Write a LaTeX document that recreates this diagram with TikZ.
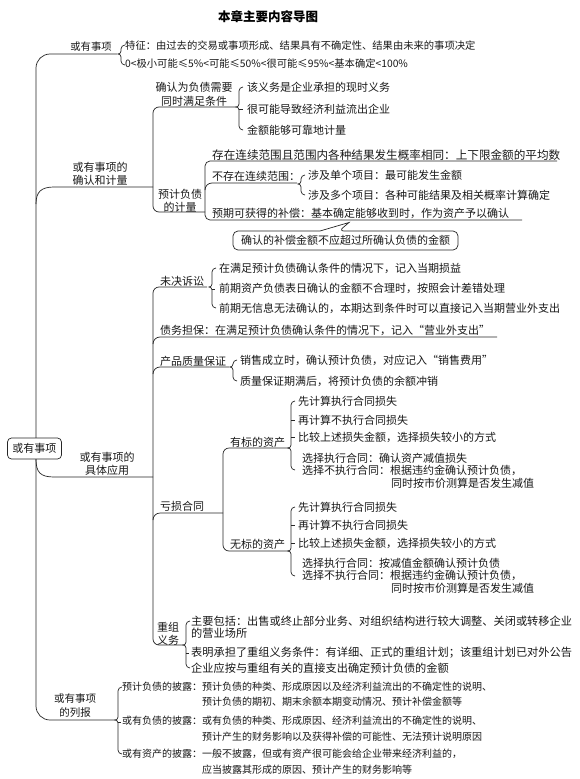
\documentclass[tikz,border=0pt]{standalone}
\usepackage{fontspec}
\setmainfont{Noto Sans CJK SC}
\newcommand\fsz[1]{\fontsize{#1}{#1}\selectfont}
\newcommand\cbrace[4]{%
  \draw[ln] ({#1+4},#2) to[out=180,in=90] (#1,{#2+4}) -- (#1,{#3-3}) to[out=-90,in=0] ({#1-3},#3) to[out=0,in=90] (#1,{#3+3}) -- (#1,{#4-4}) to[out=-90,in=180] ({#1+4},#4);}
\tikzset{
  ln/.style={line width=0.7pt, draw=black!85},
  tx/.style={inner sep=0pt, anchor=west, text=black!90, font=\fsz{11}},
  txs/.style={tx, font=\fsz{10}},
  lbl/.style={inner sep=0pt, align=center, text=black!90, font=\fontsize{11}{13}\selectfont},
}
\begin{document}
\begin{tikzpicture}[x=1pt,y=-1pt]
\fill[white] (0,0) rectangle (580,779);
\useasboundingbox (0,0) rectangle (580,779);

\node[inner sep=0pt, font=\bfseries\fsz{12.5}] (title) at (268,17) {本章主要内容导图};

% ---------- main spine ----------
\draw[ln, rounded corners=14] (117,54) -- (36,54) -- (36,720) -- (115,720);

% ---------- section 1 ----------
\node[lbl, font=\fsz{10.3}] (s1) at (91,47) {或有事项};
\cbrace{121}{45}{54}{65}
\node[tx, font=\fsz{10.3}] (s1a) at (125,46) {特征：由过去的交易或事项形成、结果具有不确定性、结果由未来的事项决定};
\node[tx, font=\fsz{10.3}] (s1b) at (125,64) {0<极小可能≤5\%<可能≤50\%<很可能≤95\%<基本确定<100\%};

% ---------- section 2 ----------
\node[lbl] (s2) at (100,173.5) {或有事项的\\确认和计量};
\draw[ln] (36,204) .. controls (36,192) and (41,187) .. (54,187) -- (153,187);
\draw[ln, rounded corners=6] (236,107) -- (153,107) -- (153,212) -- (205,212);

\node[lbl, font=\fontsize{11}{14}\selectfont] (s21) at (194,94) {确认为负债需要\\同时满足条件};
\cbrace{239}{87}{107}{130}
\draw[ln] (239,109) -- (243,109);
\node[tx] (s21a) at (247,87) {该义务是企业承担的现时义务};
\node[tx] (s21b) at (247,109) {很可能导致经济利益流出企业};
\node[tx] (s21c) at (247,130) {金额能够可靠地计量};

\node[lbl, font=\fontsize{11}{12.5}\selectfont] (s22) at (180,201) {预计负债\\的计量};
\draw[ln, rounded corners=5] (557,161) -- (205,161) -- (205,220) -- (522,220);
\draw[ln] (205,190) to[out=90,in=180] (212,183) -- (297,183);
\node[tx, font=\fsz{11.6}] (s22a) at (212,155) {存在连续范围且范围内各种结果发生概率相同：上下限金额的平均数};
\node[tx] (s22b) at (212,176) {不存在连续范围：};
\cbrace{301}{175}{184}{195}
\node[tx] (s22b1) at (308,175) {涉及单个项目：最可能发生金额};
\node[tx] (s22b2) at (308,195) {涉及多个项目：各种可能结果及相关概率计算确定};
\node[tx] (s22c) at (212,213) {预期可获得的补偿：基本确定能够收到时，作为资产予以确认};

\node[lbl] (note) at (345.5,240.5) {确认的补偿金额不应超过所确认负债的金额};
\draw[ln, rounded corners=5] (320,231) -- (233,231) -- (233,250) -- (458,250) -- (458,231) -- (339,231) [sharp corners] -- (349,222.5) -- (320,231);

% ---------- section 3 ----------
\node[lbl] (s3) at (107,463.5) {或有事项的\\具体应用};
\draw[ln] (36,459) .. controls (36,472) and (40,477) .. (54,477) -- (153,477);
\node[draw, ln, rounded corners=4, fill=white, minimum width=54pt, minimum height=21pt, inner sep=2pt, text=black!90, font=\fsz{11}] (root) at (34.5,448.5) {或有事项};

\draw[ln, rounded corners=6] (207,287) -- (153,287) -- (153,645) -- (183,645);
\draw[ln] (153,344) to[out=90,in=180] (160,337) -- (497,337);
\draw[ln] (153,374) to[out=90,in=180] (160,367) -- (229,367);
\draw[ln] (153,520) to[out=90,in=180] (160,513) -- (223,513);

\node[tx] (s31) at (160,281) {未决诉讼};
\cbrace{212}{268}{287}{308}
\draw[ln] (212,289) -- (215,289);
\node[tx] (s31a) at (219,268) {在满足预计负债确认条件的情况下，记入当期损益};
\node[tx] (s31b) at (219,288) {前期资产负债表日确认的金额不合理时，按照会计差错处理};
\node[tx] (s31c) at (219,308) {前期无信息无法确认的，本期达到条件时可以直接记入当期营业外支出};

\node[tx] (s32) at (160,330) {债务担保：在满足预计负债确认条件的情况下，记入“营业外支出”};

\node[tx] (s33) at (160,361) {产品质量保证};
\cbrace{233}{360}{367}{381}
\node[tx] (s33a) at (240,360) {销售成立时，确认预计负债，对应记入“销售费用”};
\node[tx] (s33b) at (240,381) {质量保证期满后，将预计负债的余额冲销};

\node[tx] (s34) at (160,506) {亏损合同};
\draw[ln, rounded corners=6] (289,448) -- (223,448) -- (223,551) -- (289,551);

\node[tx] (s34a) at (230,442) {有标的资产};
\cbrace{291}{401}{448}{470}
\draw[ln] (291,420) -- (295,420);
\draw[ln] (291,437) -- (295,437);
\node[tx] (s34a1) at (298,401) {先计算执行合同损失};
\node[tx] (s34a2) at (298,420) {再计算不执行合同损失};
\node[tx] (s34a3) at (298,437) {比较上述损失金额，选择损失较小的方式};
\node[tx] (s34a4) at (302,458) {选择执行合同：确认资产减值损失};
\node[tx] (s34a5) at (302,470) {选择不执行合同：根据违约金确认预计负债，};
\node[tx] (s34a6) at (391,483) {同时按市价测算是否发生减值};

\node[tx] (s34b) at (230,544) {无标的资产};
\cbrace{291}{507}{551}{576}
\draw[ln] (291,525) -- (295,525);
\draw[ln] (291,543) -- (295,543);
\node[tx] (s34b1) at (298,507) {先计算执行合同损失};
\node[tx] (s34b2) at (298,525) {再计算不执行合同损失};
\node[tx] (s34b3) at (298,543) {比较上述损失金额，选择损失较小的方式};
\node[tx] (s34b4) at (302,563) {选择执行合同：按减值金额确认预计负债};
\node[tx] (s34b5) at (302,575) {选择不执行合同：根据违约金确认预计负债，};
\node[tx] (s34b6) at (391,588) {同时按市价测算是否发生减值};

\node[lbl] (s35) at (168,633.5) {重组\\义务};
\cbrace{186}{621}{645}{668}
\draw[ln] (186,653) -- (189,653);
\node[tx, font=\fsz{11.2}] (s35a) at (191,621) {主要包括：出售或终止部分业务、对组织结构进行较大调整、关闭或转移企业};
\node[tx, font=\fsz{11.2}] (s35b) at (191,633) {的营业场所};
\node[tx, font=\fsz{11.2}] (s35c) at (191,653) {表明承担了重组义务条件：有详细、正式的重组计划；该重组计划已对外公告};
\node[tx, font=\fsz{11.2}] (s35d) at (191,668) {企业应按与重组有关的直接支出确定预计负债的金额};

% ---------- section 4 ----------
\node[lbl, font=\fontsize{10.5}{14}\selectfont] (s4) at (75,706) {或有事项\\的列报};
\cbrace{118}{687}{720}{754}
\draw[ln] (118,722) -- (121,722);
\node[txs] (s41) at (122,687) {预计负债的披露：预计负债的种类、形成原因以及经济利益流出的不确定性的说明、};
\node[txs] (s41b) at (202,702) {预计负债的期初、期末余额本期变动情况、预计补偿金额等};
\node[txs] (s42) at (122,721) {或有负债的披露：或有负债的种类、形成原因、经济利益流出的不确定性的说明、};
\node[txs] (s42b) at (202,737) {预计产生的财务影响以及获得补偿的可能性、无法预计说明原因};
\node[txs] (s43) at (122,754) {或有资产的披露：一般不披露，但或有资产很可能会给企业带来经济利益的，};
\node[txs] (s43b) at (202,770) {应当披露其形成的原因、预计产生的财务影响等};
\end{tikzpicture}
\end{document}
